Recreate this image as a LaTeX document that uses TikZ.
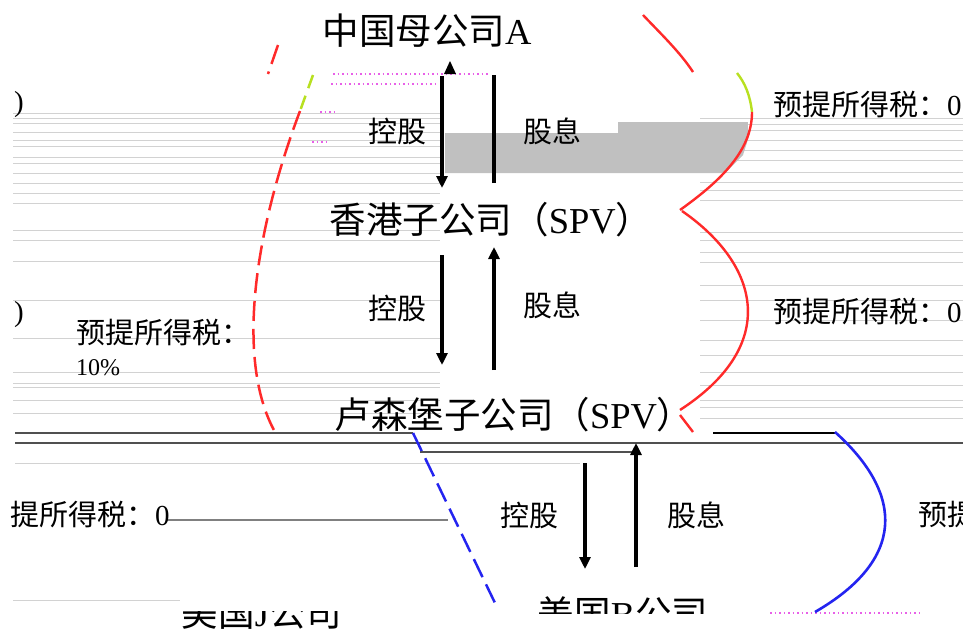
\documentclass[tikz,border=0pt]{standalone}
\usepackage{fontspec}
\setmainfont{Liberation Serif}
\newfontfamily\cjk{Noto Sans CJK SC}
\usetikzlibrary{arrows.meta}
\definecolor{myred}{HTML}{FF2A2A}
\definecolor{myblue}{HTML}{2424F0}
\definecolor{gline}{HTML}{D2D2D2}
\definecolor{dline}{HTML}{505050}
\definecolor{pinkdot}{HTML}{E860E8}
\definecolor{grayfill}{HTML}{C0C0C0}
\definecolor{glitch}{HTML}{B8E020}
\begin{document}
\begin{tikzpicture}[x=1pt,y=-1pt,
  company/.style={inner sep=0pt, font=\fontsize{36.5}{42}\selectfont},
  lbl/.style={inner sep=0pt, font=\fontsize{29}{34}\selectfont},
  arr/.style={line width=3.2pt, -{Triangle[length=12pt,width=11pt]}},
  stem/.style={line width=3.2pt},
  rdash/.style={draw=myred, line width=2.5pt, dash pattern=on 20pt off 8pt},
  bdash/.style={draw=myblue, line width=2.5pt, dash pattern=on 20pt off 8pt},
  rcurve/.style={draw=myred, line width=2.4pt},
  bcurve/.style={draw=myblue, line width=2.6pt},
  faint/.style={draw=gline, line width=1pt},
  heavy/.style={draw=dline, line width=1.6pt},
  pinkline/.style={draw=pinkdot, line width=1.2pt, dash pattern=on 1.5pt off 3pt}]
\useasboundingbox (0,0) rectangle (963,635);
\clip (0,0) rectangle (963,635);
\fill[white] (0,0) rectangle (963,635);

% faint glitch lines (left)
\foreach \yy in {113,118,123,132,140,146,157,163,173,183,193,203,230,240,261,300,338,372,383,387,400,413}
  \draw[faint] (13,\yy) -- (440,\yy);
% faint glitch lines (right)
\foreach \yy in {118,124,130,140,150,160,172,182,190,200,232,240,252,262,285,300,320,340,355,372,385,400,407,418}
  \draw[faint] (700,\yy) -- (963,\yy);

% gray block
\fill[grayfill] (445,133) -- (750,133) -- (743,155) -- (725,173) -- (445,173) -- cycle;
\fill[grayfill] (618,122) rectangle (748,133);

% pink dotted lines
\draw[pinkline] (333,74) -- (490,74);
\draw[pinkline] (331,84) -- (437,84);
\draw[pinkline] (320,112) -- (337,112);
\draw[pinkline] (312,142) -- (327,142);
\draw[pinkline] (770,613) -- (920,613);

% heavy horizontal lines
\draw[heavy] (15,433) -- (413,433);
\draw[line width=2.6pt] (713,433) -- (835,433);
\draw[heavy] (15,443) -- (963,443);
\draw[heavy] (420,452) -- (633,452);
\draw[faint] (15,463) -- (580,463);
\draw[draw=gray, line width=1.2pt] (167,520) -- (448,520);
\draw[faint] (13,600) -- (180,600);

% company nodes
\node[company] (cn) at (427,31) {{\cjk 中国母公司}A};
\node[company] (hk) at (491,220) {{\cjk 香港子公司（}SPV{\cjk ）}};
\node[company] (lu) at (514,415) {{\cjk 卢森堡子公司（}SPV{\cjk ）}};
\begin{scope}
  \clip (0,0) rectangle (963,613);
  \node[company] (us) at (623,614) {{\cjk 美国}B{\cjk 公司}};
\end{scope}
\begin{scope}
  \clip (0,611) rectangle (963,635);
  \node[company] (uj) at (262,613) {{\cjk 美国}J{\cjk 公司}};
\end{scope}

% labels
\node[lbl] (k1) at (397,131) {\cjk 控股};
\node[lbl] (g1) at (552,131) {\cjk 股息};
\node[lbl] (k2) at (397,308) {\cjk 控股};
\node[lbl] (g2) at (552,305) {\cjk 股息};
\node[lbl] (k3) at (529,515) {\cjk 控股};
\node[lbl] (g3) at (696,515) {\cjk 股息};
\node[lbl, anchor=west] (t1) at (773,105) {{\cjk 预提所得税：}0};
\node[lbl, anchor=west] (t2) at (773,312) {{\cjk 预提所得税：}0};
\node[lbl, anchor=west] (t3) at (918,515) {\cjk 预提所得税};
\node[lbl, anchor=west] (t4) at (76,333) {\cjk 预提所得税：};
\node[lbl, anchor=west] (t5) at (76,368) {\fontsize{24}{30}\selectfont 10\%};
\node[lbl, anchor=west] (t6) at (10,515) {{\cjk 提所得税：}0};
\node[lbl, anchor=east] (p1) at (24,105) {)};
\node[lbl, anchor=east] (p2) at (24,315) {)};

% arrows top
\coordinate (a1s) at (442,76);  \coordinate (a1e) at (442,188);
\coordinate (b1s) at (494,183); \coordinate (b1e) at (494,75);
\draw[arr] (a1s) -- (a1e);
\draw[stem] (b1s) -- (b1e);
\fill (444,74) -- (450,61) -- (456,74) -- cycle;
% arrows middle
\coordinate (a2s) at (442,255); \coordinate (a2e) at (442,365);
\coordinate (b2s) at (494,370); \coordinate (b2e) at (494,247);
\draw[arr] (a2s) -- (a2e);
\draw[arr] (b2s) -- (b2e);
% arrows bottom
\coordinate (a3s) at (585,463); \coordinate (a3e) at (585,569);
\coordinate (b3s) at (636,567); \coordinate (b3e) at (636,443);
\draw[arr] (a3s) -- (a3e);
\draw[arr] (b3s) -- (b3e);

% left red dashed curve
\coordinate (l0) at (278,45); \coordinate (l1) at (268,74);
\coordinate (l2) at (313,75); \coordinate (l3) at (300,111);
\coordinate (l4) at (275,432);
\draw[rdash] (l0) -- (l1);
\draw[draw=glitch, line width=2.5pt, dash pattern=on 14pt off 8pt] (l2) -- (l3);
\draw[rdash] (l3) .. controls (255,230) and (235,360) .. (l4);

% right red curves
\coordinate (r0) at (643,15); \coordinate (r1) at (693,72);
\coordinate (r2) at (737,73); \coordinate (r3) at (752,112);
\coordinate (r4) at (680,210); \coordinate (r5) at (680,410);
\draw[rcurve] (r0) .. controls (660,33) and (680,52) .. (r1);
\draw[draw=glitch, line width=2.4pt] (r2) .. controls (745,83) and (750,95) .. (r3);
\draw[rcurve] (r3) .. controls (752,150) and (722,180) .. (r4);
\draw[rcurve] (682,211) .. controls (760,265) and (780,345) .. (r5);
\draw[rcurve] (680,415) -- (693,432);

% blue curves
\coordinate (u0) at (413,433); \coordinate (u1) at (495,603);
\draw[bdash] (u0) -- (u1);
\coordinate (v0) at (835,432); \coordinate (v1) at (815,612);
\draw[bcurve] (v0) .. controls (905,495) and (905,560) .. (v1);
\end{tikzpicture}
\end{document}
